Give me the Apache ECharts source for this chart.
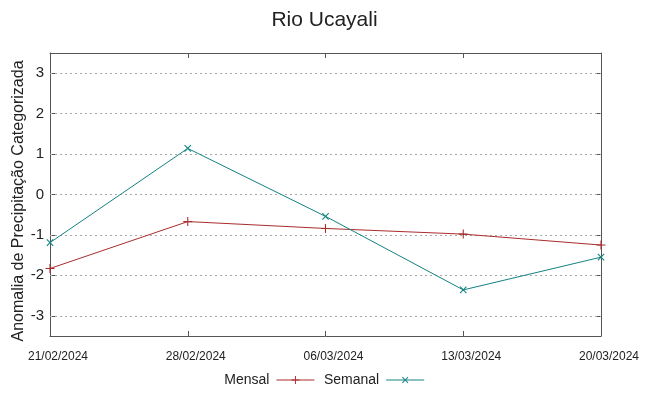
<!DOCTYPE html>
<html>
<head>
<meta charset="utf-8">
<script src="https://cdn.jsdelivr.net/npm/echarts@6/dist/echarts.min.js"></script>
<style>html,body{margin:0;padding:0;background:#fff}#c{width:649px;height:396px}</style>
</head>
<body>
<div id="c"></div>
<script>
var categories = ['21/02/2024', '28/02/2024', '06/03/2024', '13/03/2024', '20/03/2024'];
var mensal = [-1.83, -0.67, -0.84, -0.98, -1.25];
var semanal = [-1.19, 1.14, -0.54, -2.36, -1.55];
var yTicks = [-3, -2, -1, 0, 1, 2, 3];
var yName = 'Anomalia de Precipitação Categorizada';
var titleText = 'Rio Ucayali';

var FONT = 'Liberation Sans';
var frame = {show: true, onZero: false, lineStyle: {color: '#555', width: 1}};
var tick = {show: true, inside: true, length: 5, lineStyle: {color: '#555'}};
var plusPath = 'path://M0,4.4h10v1.2h-10z M4.4,0h1.2v10h-1.2z';
var chart = echarts.init(document.getElementById('c'), null, {renderer: 'canvas'});
chart.setOption({
  animation: false,
  backgroundColor: '#fff',
  title: {
    text: titleText, left: 'center', top: 5,
    textStyle: {fontFamily: FONT, fontSize: 21, fontWeight: 'normal', color: '#222'}
  },
  graphic: [{
    type: 'text', x: 19, y: 201, rotation: Math.PI / 2, silent: true,
    style: {text: yName, fontFamily: FONT, fontSize: 16, fill: '#222', align: 'center', verticalAlign: 'middle'}
  }],
  legend: {
    bottom: 4, left: 'center', align: 'right', itemWidth: 38, itemHeight: 10, itemGap: 9,
    textStyle: {fontFamily: FONT, fontSize: 14, color: '#222', padding: [0, 2, 0, 0]},
    lineStyle: {width: 1},
    data: ['Mensal', 'Semanal']
  },
  grid: {left: 50, right: 48, top: 53, bottom: 60, containLabel: false},
  xAxis: [{
    type: 'category', data: categories, boundaryGap: false, position: 'bottom',
    axisLine: frame, axisTick: tick,
    axisLabel: {fontFamily: FONT, fontSize: 12, color: '#222', margin: 15, padding: [0, 0, 0, 16], interval: 0},
    splitLine: {show: false}
  }, {
    type: 'category', data: categories, boundaryGap: false, position: 'top',
    axisLine: frame, axisTick: tick,
    axisLabel: {show: false}, splitLine: {show: false}
  }],
  yAxis: [{
    type: 'value', min: -3.5, max: 3.5, position: 'left',
    axisLine: frame,
    axisTick: {show: true, inside: true, length: 5, lineStyle: {color: '#555'}, customValues: yTicks},
    axisLabel: {fontFamily: FONT, fontSize: 15, color: '#222', margin: 6, customValues: yTicks},
    splitLine: {show: false}
  }, {
    type: 'value', min: -3.5, max: 3.5, position: 'right',
    axisLine: frame,
    axisTick: {show: true, inside: true, length: 5, lineStyle: {color: '#555'}, customValues: yTicks},
    axisLabel: {show: false, customValues: yTicks}, splitLine: {show: false}
  }],
  series: [{
    name: 'Mensal', type: 'line', data: mensal, xAxisIndex: 0, yAxisIndex: 0,
    symbol: plusPath, symbolSize: 9, showSymbol: true, z: 3,
    itemStyle: {color: '#aa2c2c'}, lineStyle: {color: '#aa2c2c', width: 1},
    markLine: {
      silent: true, symbol: 'none', label: {show: false}, z: 1,
      lineStyle: {color: '#a8a8a8', type: [2, 3], width: 1},
      emphasis: {disabled: true},
      data: yTicks.map(function (v) { return {yAxis: v}; })
    }
  }, {
    name: 'Semanal', type: 'line', data: semanal, xAxisIndex: 0, yAxisIndex: 0,
    symbol: plusPath, symbolSize: 9, symbolRotate: 45, showSymbol: true, z: 3,
    itemStyle: {color: '#148282'}, lineStyle: {color: '#148282', width: 1}
  }]
});
</script>
</body>
</html>
